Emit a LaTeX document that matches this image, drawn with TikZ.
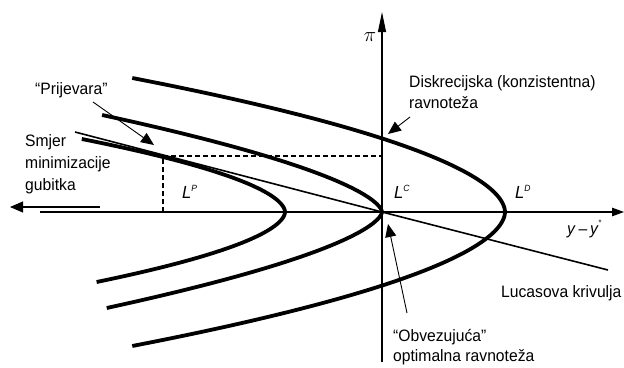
\documentclass[tikz,border=0pt]{standalone}
\usepackage{fontspec}
\setmainfont{Liberation Sans}[FakeStretch=0.95]
\usetikzlibrary{arrows.meta}
\newcommand\Lsup[1]{\textit{L}\raisebox{6.5pt}{\fontsize{9}{9}\selectfont\textit{#1}}}
\begin{document}
\begin{tikzpicture}[x=1pt,y=-1pt,
  loss/.style={line width=3.8pt},
  lucas/.style={line width=1.6pt},
  axis/.style={line width=1.1pt},
  annot/.style={line width=0.9pt,-{Triangle[length=13pt,width=11pt]}},
  guide/.style={line width=1.2pt,dash pattern=on 5pt off 3pt},
  txt/.style={inner sep=0pt,font=\fontsize{16.5}{21}\selectfont},
  mtxt/.style={txt,align=left,anchor=north west}]
\useasboundingbox (0,0) rectangle (624,367);
% coordinates
\coordinate (O) at (382,212);
\coordinate (xl) at (40,212);
\coordinate (xr) at (624,212);
\coordinate (yb) at (382,362);
\coordinate (yt) at (382,12);
\coordinate (lucA) at (75,132);
\coordinate (lucB) at (608,270);
\coordinate (T) at (163,156);
\coordinate (Tx) at (163,212);
\coordinate (Ty) at (382,156);
\coordinate (smA) at (100,207);
\coordinate (smB) at (10,207);
\coordinate (prA) at (93,102);
\coordinate (prB) at (154,145);
\coordinate (dkA) at (410,117);
\coordinate (dkB) at (388,134);
\coordinate (obA) at (407,313);
\coordinate (obB) at (388,224);
% axes
\draw[axis,-{Triangle[length=12pt,width=8.5pt]}] (xl) -- (xr);
\draw[axis,-{Triangle[length=20pt,width=8pt]}] (yb) -- (yt);
% guides
\draw[guide] (Tx) -- (T) -- (Ty);
% Lucas line
\draw[lucas] (lucA) -- (O) -- (lucB);
% loss curves
\draw[loss] plot[domain=-73:70,samples=120] ({285-0.0899*pow(abs(\x)+0.01,1.8)},{212+\x});
\draw[loss] plot[domain=-97:96,samples=140] ({382-0.1854*pow(abs(\x)+0.01,1.6)},{212+\x});
\draw[loss] plot[domain=-134:134,samples=160] ({505-0.04327*pow(abs(\x)+0.01,1.85)},{212+\x});
% arrows
\draw[axis,-{Triangle[length=13pt,width=11pt]}] (smA) -- (smB);
\draw[annot] (prA) -- (prB);
\draw[annot] (dkA) -- (dkB);
\draw[annot] (obA) -- (obB);
% texts
\node[txt,anchor=base west] (prij) at (35,94) {“Prijevara”};
\node[mtxt,font=\fontsize{16.5}{22}\selectfont] (smjer) at (25,134) {Smjer\\minimizacije\\gubitka};
\node[mtxt] (disk) at (409,75) {Diskrecijska (konzistentna)\\ravnoteža};
\node[mtxt,font=\fontsize{16.5}{20.5}\selectfont] (obvez) at (393,329) {“Obvezujuća”\\optimalna ravnoteža};
\node[txt,anchor=base west] (luc) at (501,297) {Lucasova krivulja};
\node[txt,anchor=base west,font=\fontsize{17.5}{21}\selectfont] (LP) at (182,198) {\Lsup{P}};
\node[txt,anchor=base west,font=\fontsize{17.5}{21}\selectfont] (LC) at (394,198) {\Lsup{C}};
\node[txt,anchor=base west,font=\fontsize{17.5}{21}\selectfont] (LD) at (515,198) {\Lsup{D}};
\node[txt,anchor=base west] (yy) at (567,234) {\textit{y}\,–\,\textit{y}\raisebox{9pt}{\fontsize{8}{8}\selectfont *}};
\node[txt,font=\fontsize{20}{21}\selectfont] (pi) at (370,37) {$\pi$};
\end{tikzpicture}
\end{document}
